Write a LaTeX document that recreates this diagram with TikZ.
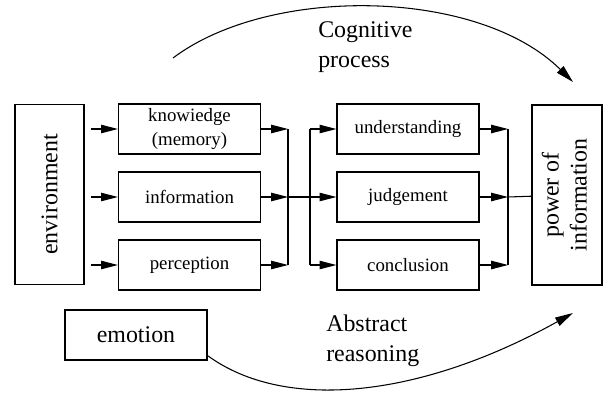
\documentclass[tikz,border=0pt]{standalone}
\usepackage{fontspec}
\setmainfont{Liberation Serif}
\usetikzlibrary{positioning, arrows.meta, calc}

\begin{document}
\begin{tikzpicture}[
    x=0.25mm, y=-0.25mm,
    box/.style={rectangle, draw, line width=0.9pt, minimum width=35.5mm, minimum height=12.5mm, inner sep=0pt, align=center, font=\fontsize{13.4}{17.5}\selectfont},
    tallbox/.style={rectangle, draw, line width=0.9pt, minimum width=17.25mm, minimum height=45mm, inner sep=0pt, font=\fontsize{17}{20}\selectfont},
    arrow/.style={-{Triangle[length=4.2mm, width=2.1mm]}, line width=0.75pt},
    bus/.style={line width=0.75pt},
    curved/.style={-{Triangle[length=4.5mm, width=2.3mm]}, line width=0.75pt},
    arctext/.style={align=left, inner sep=0pt, font=\fontsize{17}{21}\selectfont}
]

% Sizes are given in pixels of a 603 x 392 sheet
\useasboundingbox (0,0) rectangle (603,392);

\newcommand{\LeftCol}{189.5}
\newcommand{\RightCol}{408}
\newcommand{\TopRow}{129}
\newcommand{\RowSep}{68}

% Outer boxes
\node[tallbox] (env) at (49.5,194.5) {\rotatebox{90}{environment}};
\node[tallbox, minimum width=17.5mm] (power) at (567,195)
    {\rotatebox{90}{\begin{tabular}{@{}c@{}}power of\\information\end{tabular}}};
\node[box, font=\fontsize{17}{20}\selectfont] (emotion) at (136,335) {emotion};

% Inputs column and conclusions column
\foreach \name/\txt [count=\i] in {know/{knowiedge\\(memory)}, info/information, perc/perception}{
    \node[box] (\name) at (\LeftCol, {\TopRow+(\i-1)*\RowSep}) {\txt};
}
\foreach \name/\txt [count=\i] in {under/understanding, judge/judgement, concl/conclusion}{
    \node[box] (\name) at (\RightCol, {\TopRow+(\i-1)*\RowSep}) {\txt};
}

% Junction points of the buses
\coordinate (joinL) at (288,197);
\coordinate (fork) at (310,197);
\coordinate (joinR) at (508,197);

% Environment feeds the inputs, inputs meet on the left bus
\foreach \name in {know, info, perc}{
    \draw[arrow, shorten <=1.5mm] (env.east |- \name) -- (\name);
    \draw[arrow] (\name) -- (joinL |- \name);
}
\draw[bus] (joinL |- know) -- (joinL |- perc);
\draw[arrow] (joinL) -- (judge);

% Fork to the upper and lower conclusions
\draw[bus] (fork |- under) -- (fork |- concl);
\draw[arrow] (fork |- under) -- (under);
\draw[arrow] (fork |- concl) -- (concl);

% Conclusions meet on the right bus
\foreach \name in {under, judge, concl}{
    \draw[arrow] (\name) -- (joinR |- \name);
}
\draw[bus] (joinR |- under) -- (joinR |- concl);
\draw[bus] (joinR) -- (power);

% Curved arrows over and under the chain
\coordinate (cogStart) at (173,58);
\coordinate (cogEnd) at (573,82);
\coordinate (absEnd) at (573,313);
\draw[curved] (cogStart) .. controls (270,-15) and (478,-12) .. (cogEnd);
\draw[curved] ([yshift=1.25mm]emotion.south east) .. controls (285,412) and (420,398) .. (absEnd);

\node[arctext, anchor=west] (cog) at (318,47) {Cognitive\\process};
\node[arctext, anchor=west] (abs) at (326,341) {Abstract\\reasoning};

\end{tikzpicture}
\end{document}
